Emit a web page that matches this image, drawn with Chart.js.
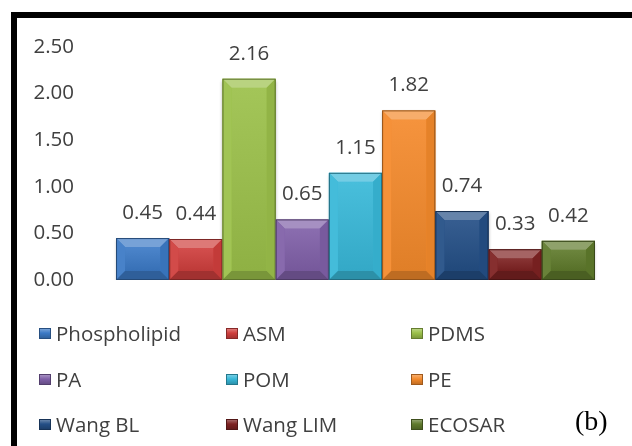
<!DOCTYPE html>
<html>
<head>
<meta charset="utf-8">
<script src="https://cdn.jsdelivr.net/npm/chart.js@4.4.1/dist/chart.umd.min.js"></script>
<style>
  html, body { margin: 0; padding: 0; background: #fff; }
  #wrap { position: relative; width: 632px; height: 446px; overflow: hidden; }
  #frame { position: absolute; left: 11px; top: 12px; width: 700px; height: 500px;
           border: 6px solid #000; box-sizing: border-box; }
  canvas { position: absolute; left: 0; top: 0; }
  #legend { position: absolute; left: 0; top: 0; font-family: "Open Sans"; font-size: 20.5px; color: #404040; }
  .item { position: absolute; display: flex; align-items: center; white-space: nowrap; transform: translateY(-50%); }
  .box { width: 12px; height: 11px; margin-right: 5px; box-sizing: border-box; }
  #tag { position: absolute; left: 575px; top: 405px; font-family: "Liberation Serif"; font-size: 28px; color: #000; }
</style>
</head>
<body>
<div id="wrap">
  <canvas id="chart" width="632" height="446"></canvas>
  <div id="legend"></div>
  <div id="tag">(b)</div>
  <div id="frame"></div>
</div>
<script>
// one category, one series per model
const categories = [""];
const seriesNames = ["Phospholipid", "ASM", "PDMS", "PA", "POM", "PE", "Wang BL", "Wang LIM", "ECOSAR"];
const seriesValues = [0.45, 0.44, 2.16, 0.65, 1.15, 1.82, 0.74, 0.33, 0.42];
const yTicks = [0, 0.5, 1, 1.5, 2, 2.5];

const colors = ["#3c7ac6", "#cf3f3d", "#9bc04a", "#8060a8", "#38b8d8", "#f48a2c", "#244f86", "#7e2222", "#5f7a2c"];
const FONT = "Open Sans";

function shade(hex, amt) {
  const n = parseInt(hex.slice(1), 16);
  const t = amt < 0 ? 0 : 255, p = Math.abs(amt);
  const f = c => Math.round((t - c) * p + c);
  return "rgb(" + f(n >> 16) + "," + f((n >> 8) & 255) + "," + f(n & 255) + ")";
}

// bevel facets + value labels on top of the bars
const bevelPlugin = {
  id: "bevel",
  beforeDatasetsDraw(chart) {
    const ctx = chart.ctx;
    ctx.save();
    ctx.shadowColor = "rgba(0,0,0,0.28)";
    ctx.shadowOffsetY = 2;
    ctx.shadowBlur = 3;
  },
  afterDatasetsDraw(chart) {
    const ctx = chart.ctx;
    ctx.restore();
    chart.data.datasets.forEach((ds, i) => {
      const bar = chart.getDatasetMeta(i).data[0];
      const c = colors[i];
      const L = bar.x - bar.width / 2, R = bar.x + bar.width / 2;
      const T = bar.y, B = bar.base;
      const b = 9;
      ctx.save();
      // face gradient
      const g = ctx.createLinearGradient(0, T + b, 0, B - b);
      g.addColorStop(0, shade(c, 0.08));
      g.addColorStop(1, shade(c, -0.08));
      ctx.fillStyle = g;
      ctx.fillRect(L + b, T + b, R - L - 2 * b, B - T - 2 * b);
      const facet = (pts, col) => {
        ctx.beginPath();
        ctx.moveTo(pts[0][0], pts[0][1]);
        for (let k = 1; k < pts.length; k++) ctx.lineTo(pts[k][0], pts[k][1]);
        ctx.closePath();
        ctx.fillStyle = col;
        ctx.fill();
      };
      facet([[L, T], [R, T], [R - b, T + b], [L + b, T + b]], shade(c, 0.3));
      facet([[L, T], [L + b, T + b], [L + b, B - b], [L, B]], shade(c, 0.06));
      facet([[R, T], [R, B], [R - b, B - b], [R - b, T + b]], shade(c, -0.06));
      facet([[L, B], [L + b, B - b], [R - b, B - b], [R, B]], shade(c, -0.22));
      ctx.strokeStyle = shade(c, -0.4);
      ctx.lineWidth = 1;
      ctx.strokeRect(L + 0.5, T + 0.5, R - L - 1, B - T - 1);
      ctx.restore();

      ctx.save();
      ctx.font = "20.5px '" + FONT + "'";
      ctx.fillStyle = "#404040";
      ctx.textAlign = "center";
      ctx.textBaseline = "middle";
      ctx.fillText(ds.data[0].toFixed(2), bar.x, T - 25);
      ctx.restore();
    });
  }
};

new Chart(document.getElementById("chart"), {
  type: "bar",
  data: {
    labels: categories,
    datasets: seriesNames.map((name, i) => ({
      label: name,
      data: [seriesValues[i]],
      backgroundColor: colors[i],
      borderWidth: 0,
      barPercentage: 1,
      categoryPercentage: 0.902
    }))
  },
  options: {
    responsive: false,
    animation: false,
    layout: { padding: { left: 0, right: 11, top: 47, bottom: 166 } },
    plugins: { legend: { display: false }, tooltip: { enabled: false } },
    scales: {
      x: { display: false },
      y: {
        min: yTicks[0],
        max: yTicks[yTicks.length - 1],
        afterBuildTicks(scale) { scale.ticks = yTicks.map(v => ({ value: v })); },
        afterFit(scale) { scale.width = 90; },
        ticks: {
          padding: 16,
          color: "#404040",
          font: { family: FONT, size: 20.5 },
          callback: v => Number(v).toFixed(2)
        },
        grid: { display: false, drawTicks: false },
        border: { display: false }
      }
    }
  },
  plugins: [bevelPlugin]
});

// three-column legend under the plot
const colX = [39, 226, 411];
const rowY = [333, 379, 424];
const legend = document.getElementById("legend");
seriesNames.forEach((name, i) => {
  const item = document.createElement("div");
  item.className = "item";
  item.style.left = colX[i % 3] + "px";
  item.style.top = rowY[Math.floor(i / 3)] + "px";
  const box = document.createElement("span");
  box.className = "box";
  box.style.background = "linear-gradient(to bottom, " + shade(colors[i], 0.3) + " 0%, " + colors[i] + " 45%, " + shade(colors[i], -0.2) + " 100%)";
  box.style.border = "1px solid " + shade(colors[i], -0.35);
  item.appendChild(box);
  item.appendChild(document.createTextNode(name));
  legend.appendChild(item);
});
</script>
</body>
</html>
